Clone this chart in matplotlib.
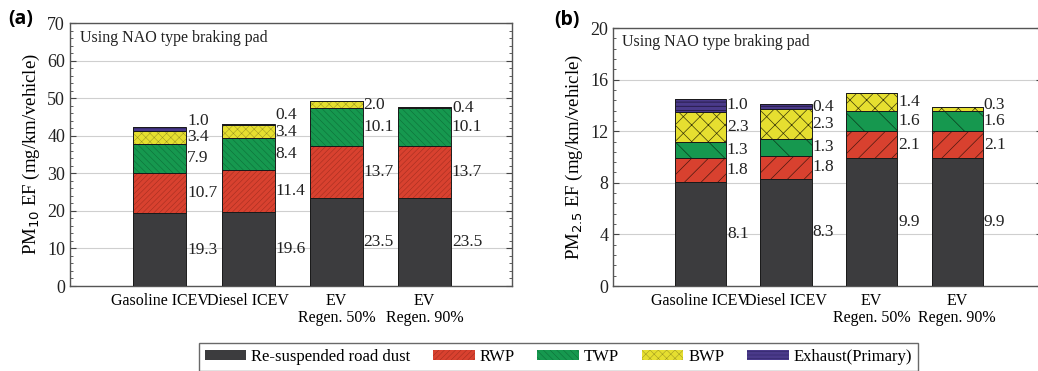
import matplotlib
matplotlib.use("Agg")
import matplotlib.pyplot as plt
import numpy as np
from matplotlib.patches import Patch
from matplotlib.ticker import MultipleLocator

plt.rcParams['font.family'] = ['Liberation Serif', 'DejaVu Serif']

categories = ["Gasoline ICEV", "Diesel ICEV", "EV\nRegen. 50%", "EV\nRegen. 90%"]
components = ["Re-suspended road dust", "RWP", "TWP", "BWP", "Exhaust(Primary)"]

# PM10 emission factors (mg/km/vehicle)
pm10_dust = [19.3, 19.6, 23.5, 23.5]
pm10_rwp = [10.7, 11.4, 13.7, 13.7]
pm10_twp = [7.9, 8.4, 10.1, 10.1]
pm10_bwp = [3.4, 3.4, 2.0, 0.4]
pm10_exhaust = [1.0, 0.4, 0.0, 0.0]

# PM2.5 emission factors (mg/km/vehicle)
pm25_dust = [8.1, 8.3, 9.9, 9.9]
pm25_rwp = [1.8, 1.8, 2.1, 2.1]
pm25_twp = [1.3, 1.3, 1.6, 1.6]
pm25_bwp = [2.3, 2.3, 1.4, 0.3]
pm25_exhaust = [1.0, 0.4, 0.0, 0.0]

colors = ["#3c3c3e", "#d8412f", "#16984f", "#e6df30", "#4a3a8a"]
hatch_colors_a = ["#3c3c3e", "#9e2c1e", "#0d6a36", "#9c9520", "#2a2060"]
hatch_colors_b = ["#3c3c3e", "#4a1810", "#0a3a1c", "#3a3808", "#1a1030"]
hatches_a = [None, "//////", "\\\\\\\\\\", "xxxx", "-----"]
hatches_b = [None, "//", "\\", "xx", "----"]

fig = plt.figure(figsize=(10.38, 3.71), dpi=100)
ax_a = fig.add_axes([0.0674, 0.2291, 0.4258, 0.7089])
ax_b = fig.add_axes([0.5906, 0.2291, 0.4133, 0.6954])


def draw(ax, series, hatches, hcolors, ymax, major, minor, ylabel, min_gap, hlw):
    x = np.arange(len(categories))
    bottom = np.zeros(len(categories))
    label_pos = [[] for _ in categories]
    plt.rcParams['hatch.linewidth'] = hlw
    for vals, col, h, hc in zip(series, colors, hatches, hcolors):
        vals = np.array(vals, dtype=float)
        ax.bar(x, vals, 0.6, bottom=bottom, color=col, edgecolor=hc,
               linewidth=0, hatch=h, zorder=3)
        ax.bar(x, vals, 0.6, bottom=bottom, facecolor="none", edgecolor="#1a1a1a",
               linewidth=0.7, zorder=3.5)
        for i, v in enumerate(vals):
            if v > 0:
                label_pos[i].append((bottom[i] + v / 2, v))
        bottom += vals
    for i, items in enumerate(label_pos):
        prev = -1e9
        for mid, v in items:
            y = max(mid, prev + min_gap)
            prev = y
            ax.text(x[i] + 0.31, y, f"{v:.1f}", ha="left", va="center",
                    fontsize=12.5, color="#222222", zorder=4)
    ax.set_xlim(-1.02, 3.99)
    ax.set_ylim(0, ymax)
    ax.set_xticks(x)
    ax.set_xticklabels(categories, fontsize=11.5, linespacing=1.1)
    ax.tick_params(axis="x", length=0, pad=5)
    ax.yaxis.set_major_locator(MultipleLocator(major))
    ax.yaxis.set_minor_locator(MultipleLocator(minor))
    ax.tick_params(axis="y", which="both", direction="in", left=True, right=True,
                   labelsize=13, colors="#444444", labelcolor="#222222")
    ax.tick_params(axis="y", which="major", length=4, width=0.8)
    ax.tick_params(axis="y", which="minor", length=2, width=0.6)
    ax.grid(axis="y", color="#cfcfcf", linewidth=0.8, zorder=0)
    for s in ax.spines.values():
        s.set_color("#555555")
        s.set_linewidth(1.0)
    ax.set_ylabel(ylabel, fontsize=13.5, labelpad=4)
    ax.text(0.022, 0.975, "Using NAO type braking pad", transform=ax.transAxes,
            ha="left", va="top", fontsize=11.5, color="#222222")


draw(ax_a, [pm10_dust, pm10_rwp, pm10_twp, pm10_bwp, pm10_exhaust], hatches_a,
     hatch_colors_a, 70, 10, 2, r"PM$_{10}$ EF (mg/km/vehicle)", 4.3, 0.35)
draw(ax_b, [pm25_dust, pm25_rwp, pm25_twp, pm25_bwp, pm25_exhaust], hatches_b,
     hatch_colors_b, 20, 4, 0.8, r"PM$_{2.5}$ EF (mg/km/vehicle)", 1.2, 0.5)

fig.text(0.008, 0.95, "(a)", fontsize=14, fontweight="bold", family="Open Sans",
         ha="left", va="center")
fig.text(0.534, 0.945, "(b)", fontsize=14, fontweight="bold", family="Open Sans",
         ha="left", va="center")

plt.rcParams['hatch.linewidth'] = 0.35
handles = [Patch(facecolor=c, edgecolor=hc, linewidth=0, hatch=h)
           for c, h, hc in zip(colors, hatches_a, hatch_colors_a)]
fig.legend(handles, components, loc="center", bbox_to_anchor=(0.538, 0.038),
           ncol=5, fontsize=12, frameon=True, fancybox=False, edgecolor="#444444",
           handlelength=2.5, handleheight=0.55, columnspacing=1.35, handletextpad=0.3,
           borderpad=0.35)

fig.savefig("out.png", dpi=100)
